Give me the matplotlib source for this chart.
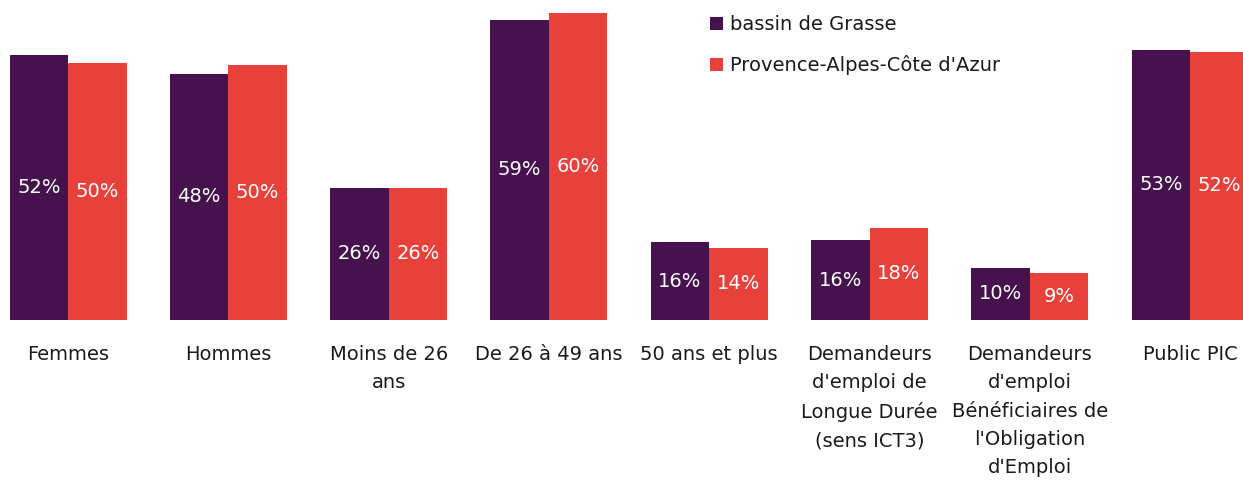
import matplotlib
matplotlib.use("Agg")
import matplotlib.pyplot as plt
import numpy as np

categories = ["Femmes", "Hommes", "Moins de 26\nans", "De 26 à 49 ans", "50 ans et plus",
              "Demandeurs\nd'emploi de\nLongue Durée\n(sens ICT3)",
              "Demandeurs\nd'emploi\nBénéficiaires de\nl'Obligation\nd'Emploi",
              "Public PIC"]
grasse = [51.8, 48.1, 25.8, 58.6, 15.2, 15.6, 10.2, 52.8]
paca = [50.2, 49.8, 25.8, 60.0, 14.1, 18.0, 9.2, 52.4]
grasse_labels = ["52%", "48%", "26%", "59%", "16%", "16%", "10%", "53%"]
paca_labels = ["50%", "50%", "26%", "60%", "14%", "18%", "9%", "52%"]
series_names = ["bassin de Grasse", "Provence-Alpes-Côte d'Azur"]

purple = "#46124E"
red = "#E8413C"
font = "DejaVu Sans"
fs = 14

fig = plt.figure(figsize=(12.43, 4.83), dpi=100)
ax = fig.add_axes([0, 163/483, 1, 320/483])
x = np.arange(len(categories))
w = 0.365
b1 = ax.bar(x - w/2, grasse, w, color=purple, label=series_names[0])
b2 = ax.bar(x + w/2, paca, w, color=red, label=series_names[1])
for bars, labs in ((b1, grasse_labels), (b2, paca_labels)):
    for r, lab in zip(bars, labs):
        ax.text(r.get_x() + r.get_width()/2, r.get_height()/2, lab, ha="center", va="center",
                color="white", fontsize=fs, family=font)
ax.set_xlim(-0.425, 7.33)
ax.set_ylim(0, 62.5)
ax.axis("off")
for xi, c in zip(x, categories):
    ax.text(xi, -4.9, c, ha="center", va="top", fontsize=fs, family=font,
            color="#1a1a1a", linespacing=1.62, clip_on=False)
leg = fig.legend(handles=[b1, b2], loc="upper left", bbox_to_anchor=(710/1243, 1 - 15/483),
                 frameon=False, prop={"family": font, "size": fs}, borderpad=0, borderaxespad=0,
                 handlelength=0.67, handleheight=0.67, handletextpad=0.35, labelspacing=1.1)
for t in leg.get_texts():
    t.set_color("#1a1a1a")
fig.savefig("out.png", dpi=100)
